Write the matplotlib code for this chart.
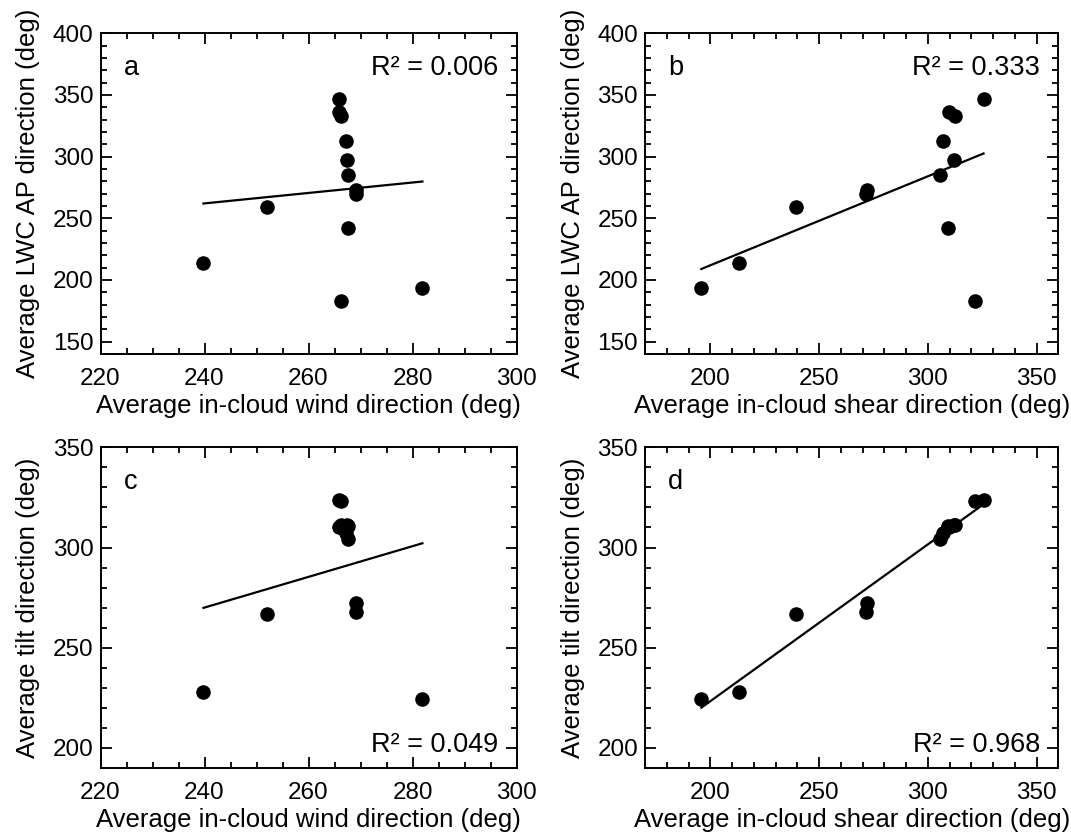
import numpy as np
import matplotlib
matplotlib.use("Agg")
import matplotlib.pyplot as plt
from matplotlib.ticker import MultipleLocator

plt.rcParams['font.family'] = ['Liberation Sans', 'DejaVu Sans']

# Data (13 events)
wind = [265.9, 265.8, 266.3, 267.3, 267.4, 267.6, 269.1, 269.2, 252.0, 267.6, 239.8, 281.9, 266.2]
shear = [325.6, 309.5, 312.6, 306.9, 312.1, 305.6, 272.0, 271.7, 239.5, 309.2, 213.2, 195.9, 321.6]
lwc_ap = [346.7, 336.4, 333.2, 312.4, 297.0, 285.3, 272.7, 270.0, 259.4, 241.9, 214.0, 193.2, 183.1]
tilt = [323.6, 310.0, 311.0, 307.0, 311.3, 304.4, 272.4, 267.6, 266.8, 310.5, 228.0, 224.3, 323.3]

panel_letters = ["a", "b", "c", "d"]
r2_labels = ["R\u00b2 = 0.006", "R\u00b2 = 0.333", "R\u00b2 = 0.049", "R\u00b2 = 0.968"]
xlabels = ["Average in-cloud wind direction (deg)", "Average in-cloud shear direction (deg)",
           "Average in-cloud wind direction (deg)", "Average in-cloud shear direction (deg)"]
ylabels = ["Average LWC AP direction (deg)", "Average LWC AP direction (deg)",
           "Average tilt direction (deg)", "Average tilt direction (deg)"]

W, H = 1071, 835
fig = plt.figure(figsize=(W / 100, H / 100), dpi=100)

def rect(l, t, r, b):
    return [l / W, 1 - b / H, (r - l) / W, (b - t) / H]

rects = [rect(100.5, 33.3, 516.5, 354), rect(645, 33.3, 1058.4, 354),
         rect(100.5, 447.3, 516.5, 768), rect(645, 447.3, 1058.4, 768)]
xs = [wind, shear, wind, shear]
ys = [lwc_ap, lwc_ap, tilt, tilt]
xlims = [(220, 300), (170, 360), (220, 300), (170, 360)]
ylims = [(140, 400), (140, 400), (190, 350), (190, 350)]
xmaj = [20, 50, 20, 50]
xmin = [5, 10, 5, 10]
r2_top = [True, True, False, False]

fs_tick = 17.5
fs_lab = 18.5
fs_txt = 19.5
for i in range(4):
    ax = fig.add_axes(rects[i])
    x = np.array(xs[i]); y = np.array(ys[i])
    ax.scatter(x, y, s=110, color='black', zorder=3, linewidths=0)
    m, c = np.polyfit(x, y, 1)
    xl = np.array([x.min(), x.max()])
    ax.plot(xl, m * xl + c, color='black', lw=1.6, zorder=2)
    ax.set_xlim(*xlims[i]); ax.set_ylim(*ylims[i])
    ax.xaxis.set_major_locator(MultipleLocator(xmaj[i]))
    ax.xaxis.set_minor_locator(MultipleLocator(xmin[i]))
    ax.yaxis.set_major_locator(MultipleLocator(50))
    ax.yaxis.set_minor_locator(MultipleLocator(10))
    ax.tick_params(which='both', direction='in', top=True, right=True, labelsize=fs_tick, width=1.3)
    ax.tick_params(which='major', length=8)
    ax.tick_params(axis='x', which='major', pad=10)
    ax.tick_params(axis='y', which='major', pad=5)
    ax.tick_params(which='minor', length=4)
    for sp in ax.spines.values():
        sp.set_linewidth(1.4)
    ax.set_xlabel(xlabels[i], fontsize=fs_lab, labelpad=3)
    ax.set_ylabel(ylabels[i], fontsize=fs_lab, labelpad=9)
    ax.text(0.055, 0.892, panel_letters[i], transform=ax.transAxes, fontsize=fs_txt,
            ha='left', va='center')
    ry = 0.892 if r2_top[i] else 0.072
    ax.text(0.955, ry, r2_labels[i], transform=ax.transAxes, fontsize=fs_txt,
            ha='right', va='center')

fig.savefig("out.png", dpi=100)
